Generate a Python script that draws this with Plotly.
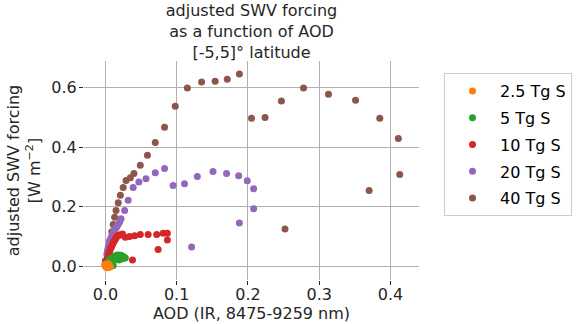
import plotly.graph_objects as go

labels = ["2.5 Tg S", "5 Tg S", "10 Tg S", "20 Tg S", "40 Tg S"]
colors = ["#ff7f0e", "#2ca02c", "#d62728", "#9467bd", "#8c564b"]

aod_2p5 = [0.000, 0.001, 0.002, 0.003, 0.004, 0.005, 0.006, 0.007, 0.002, 0.004, -0.001]
swv_2p5 = [0.000, -0.004, 0.002, -0.006, 0.003, -0.002, 0.001, -0.003, 0.006, 0.008, 0.004]

aod_5 = [0.000, 0.002, 0.004, 0.006, 0.008, 0.010, 0.012, 0.014, 0.016, 0.018, 0.020,
         0.022, 0.024, 0.026, 0.028, 0.011, 0.007, 0.019, 0.023, 0.015]
swv_5 = [0.005, 0.010, 0.015, 0.020, 0.025, 0.028, 0.032, 0.034, 0.036, 0.037, 0.035,
         0.036, 0.033, 0.030, 0.027, 0.002, 0.000, 0.020, 0.024, 0.022]

aod_10 = [0.000, 0.001, 0.002, 0.003, 0.004, 0.005, 0.006, 0.007, 0.008, 0.009, 0.010,
          0.011, 0.012, 0.013, 0.014, 0.015, 0.016, 0.018, 0.020, 0.022, 0.024, 0.028,
          0.034, 0.041, 0.049, 0.060, 0.072, 0.081, 0.087, 0.087, 0.074, 0.038]
swv_10 = [0.005, 0.012, 0.020, 0.028, 0.035, 0.042, 0.050, 0.057, 0.063, 0.068, 0.073,
          0.078, 0.083, 0.087, 0.091, 0.095, 0.099, 0.103, 0.104, 0.106, 0.108, 0.097,
          0.099, 0.102, 0.106, 0.106, 0.106, 0.110, 0.110, 0.088, 0.056, 0.020]

aod_20 = [0.002, 0.003, 0.004, 0.005, 0.006, 0.007, 0.008, 0.009, 0.010, 0.011, 0.012,
          0.013, 0.014, 0.015, 0.016, 0.017, 0.018, 0.020, 0.022, 0.027, 0.032, 0.039,
          0.047, 0.057, 0.070, 0.083, 0.095, 0.111, 0.129, 0.151, 0.170, 0.187, 0.199,
          0.208, 0.208, 0.188, 0.121]
swv_20 = [0.040, 0.052, 0.062, 0.072, 0.080, 0.088, 0.095, 0.101, 0.107, 0.112, 0.117,
          0.121, 0.125, 0.129, 0.133, 0.137, 0.141, 0.148, 0.159, 0.187, 0.221, 0.264,
          0.283, 0.294, 0.314, 0.328, 0.271, 0.277, 0.301, 0.318, 0.311, 0.304, 0.287,
          0.260, 0.193, 0.145, 0.064]

aod_40 = [0.000, 0.003, 0.006, 0.009, 0.011, 0.013, 0.015, 0.018, 0.021, 0.025, 0.029,
          0.035, 0.040, 0.049, 0.059, 0.070, 0.083, 0.098, 0.115, 0.135, 0.154, 0.171,
          0.188, 0.205, 0.224, 0.247, 0.278, 0.313, 0.351, 0.385, 0.411, 0.413, 0.370,
          0.252]
swv_40 = [0.018, 0.050, 0.085, 0.115, 0.140, 0.164, 0.187, 0.213, 0.238, 0.264, 0.288,
          0.297, 0.311, 0.339, 0.373, 0.416, 0.467, 0.538, 0.599, 0.619, 0.622, 0.629,
          0.646, 0.497, 0.500, 0.555, 0.599, 0.578, 0.558, 0.497, 0.429, 0.308, 0.254,
          0.125]

series = [
    (aod_2p5, swv_2p5),
    (aod_5, swv_5),
    (aod_10, swv_10),
    (aod_20, swv_20),
    (aod_40, swv_40),
]

fig = go.Figure()
n = len(series)
for i, (xs, ys) in enumerate(series):
    fig.add_trace(go.Scatter(
        x=xs, y=ys, mode="markers", name=labels[i], legendgroup=labels[i],
        zorder=n - i,  # smaller injections drawn on top
        marker=dict(color=colors[i], size=7, line=dict(width=0)),
    ))

font = "DejaVu Sans, Liberation Sans, sans-serif"
axis_common = dict(
    showgrid=True, gridcolor="#b0b0b0", gridwidth=1,
    showline=True, linecolor="#262626", linewidth=1.2, mirror=True,
    ticks="outside", ticklen=4, tickcolor="#262626", tickwidth=1,
    zeroline=False, tickfont=dict(size=16, color="#262626"),
    automargin=False,
)

fig.update_layout(
    width=584, height=324,
    margin=dict(l=84, r=165, t=61, b=44),
    paper_bgcolor="white", plot_bgcolor="white",
    font=dict(family=font, size=16, color="#262626"),
    title=dict(
        text="adjusted SWV forcing<br>as a function of AOD<br>[-5,5]° latitude",
        x=0.5, xref="paper", xanchor="center",
        y=1 - 16 / 324, yref="container", yanchor="top",
        font=dict(size=16, color="#262626"),
    ),
    xaxis=dict(
        range=[-0.03, 0.44], tickvals=[0.0, 0.1, 0.2, 0.3, 0.4], tickformat=".1f",
        ticklabelstandoff=-4,
        title=dict(text="AOD (IR, 8475-9259 nm)", standoff=4, font=dict(size=16)),
        **axis_common,
    ),
    yaxis=dict(
        range=[-0.047, 0.69], tickvals=[0.0, 0.2, 0.4, 0.6], tickformat=".1f",
        ticklabelstandoff=-1,
        title=dict(text="adjusted SWV forcing<br>[W m<sup>−2</sup>]", standoff=6, font=dict(size=16)),
        **axis_common,
    ),
    legend=dict(
        traceorder="grouped", tracegroupgap=3,
        x=(444 - 84) / 335, xanchor="left", y=(280 - 73) / 219, yanchor="top",
        bordercolor="#cccccc", borderwidth=1, bgcolor="white",
        font=dict(size=16, color="#000000"),
        itemwidth=45, entrywidth=78,
    ),
)

fig.write_html("out.html", config={"displayModeBar": False},
               post_script="document.body.style.margin='0px';")
